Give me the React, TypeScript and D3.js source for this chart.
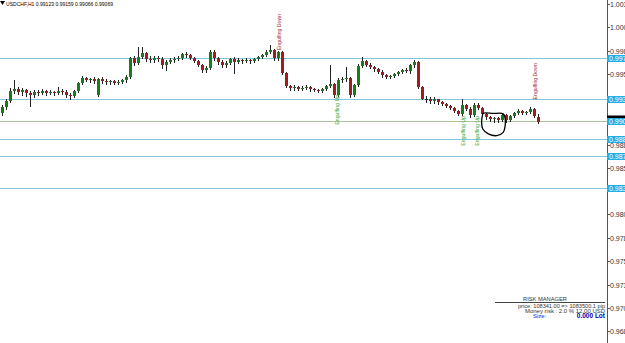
import React from 'react';
import * as d3 from 'd3';

const W = 625;
const H = 343;

const symbol = 'USDCHF,H1';
const lastQuote = ['0.99123', '0.99159', '0.99066', '0.99069'];

const open = [
  0.99174, 0.99239, 0.99303, 0.99399, 0.99421, 0.99389, 0.99410, 0.99378, 0.99357, 0.99389,
  0.99378, 0.99399, 0.99378, 0.99389, 0.99378, 0.99399, 0.99389, 0.99357, 0.99346, 0.99399,
  0.99485, 0.99538, 0.99517, 0.99528, 0.99357, 0.99528, 0.99506, 0.99496, 0.99506, 0.99485,
  0.99496, 0.99517, 0.99549, 0.99752, 0.99699, 0.99763, 0.99806, 0.99742, 0.99731, 0.99752,
  0.99742, 0.99678, 0.99710, 0.99731, 0.99742, 0.99752, 0.99795, 0.99785, 0.99752, 0.99720,
  0.99678, 0.99624, 0.99645, 0.99817, 0.99752, 0.99710, 0.99678, 0.99699, 0.99742, 0.99710,
  0.99731, 0.99720, 0.99731, 0.99720, 0.99742, 0.99763, 0.99785, 0.99817, 0.99838, 0.99752,
  0.99817, 0.99592, 0.99453, 0.99431, 0.99442, 0.99421, 0.99431, 0.99442, 0.99421, 0.99410,
  0.99399, 0.99421, 0.99453, 0.99474, 0.99357, 0.99517, 0.99528, 0.99538, 0.99357, 0.99464,
  0.99667, 0.99720, 0.99678, 0.99656, 0.99635, 0.99603, 0.99571, 0.99549, 0.99560, 0.99581,
  0.99603, 0.99624, 0.99613, 0.99678, 0.99710, 0.99442, 0.99324, 0.99314, 0.99303, 0.99314,
  0.99292, 0.99271, 0.99249, 0.99228, 0.99196, 0.99164, 0.99260, 0.99217, 0.99153, 0.99260,
  0.99228, 0.99164, 0.99131, 0.99110, 0.99121, 0.99099, 0.99153, 0.99099, 0.99142, 0.99174,
  0.99196, 0.99174, 0.99185, 0.99217, 0.99123,
];
const high = [
  0.99260, 0.99324, 0.99431, 0.99517, 0.99442, 0.99431, 0.99421, 0.99399, 0.99410, 0.99410,
  0.99421, 0.99410, 0.99410, 0.99399, 0.99442, 0.99421, 0.99410, 0.99378, 0.99410, 0.99496,
  0.99560, 0.99549, 0.99538, 0.99549, 0.99538, 0.99549, 0.99528, 0.99517, 0.99517, 0.99517,
  0.99528, 0.99571, 0.99763, 0.99774, 0.99870, 0.99870, 0.99817, 0.99774, 0.99774, 0.99774,
  0.99763, 0.99731, 0.99752, 0.99763, 0.99774, 0.99806, 0.99817, 0.99795, 0.99763, 0.99731,
  0.99688, 0.99667, 0.99838, 0.99838, 0.99763, 0.99731, 0.99720, 0.99752, 0.99763, 0.99752,
  0.99742, 0.99752, 0.99742, 0.99752, 0.99774, 0.99795, 0.99838, 0.99892, 0.99849, 0.99827,
  0.99827, 0.99603, 0.99464, 0.99464, 0.99453, 0.99453, 0.99464, 0.99453, 0.99431, 0.99421,
  0.99431, 0.99464, 0.99678, 0.99485, 0.99538, 0.99549, 0.99656, 0.99549, 0.99474, 0.99688,
  0.99763, 0.99731, 0.99699, 0.99667, 0.99645, 0.99624, 0.99581, 0.99571, 0.99592, 0.99613,
  0.99635, 0.99645, 0.99688, 0.99731, 0.99720, 0.99453, 0.99346, 0.99335, 0.99335, 0.99324,
  0.99303, 0.99281, 0.99260, 0.99239, 0.99206, 0.99324, 0.99271, 0.99239, 0.99281, 0.99281,
  0.99239, 0.99174, 0.99142, 0.99131, 0.99131, 0.99164, 0.99164, 0.99153, 0.99185, 0.99217,
  0.99206, 0.99196, 0.99239, 0.99228, 0.99159,
];
const low = [
  0.99153, 0.99217, 0.99292, 0.99378, 0.99367, 0.99357, 0.99346, 0.99249, 0.99335, 0.99357,
  0.99367, 0.99357, 0.99367, 0.99357, 0.99367, 0.99367, 0.99335, 0.99314, 0.99335, 0.99389,
  0.99474, 0.99506, 0.99496, 0.99485, 0.99346, 0.99485, 0.99474, 0.99474, 0.99474, 0.99474,
  0.99485, 0.99496, 0.99538, 0.99678, 0.99688, 0.99752, 0.99720, 0.99710, 0.99710, 0.99720,
  0.99645, 0.99624, 0.99699, 0.99710, 0.99731, 0.99742, 0.99763, 0.99742, 0.99710, 0.99667,
  0.99603, 0.99603, 0.99635, 0.99731, 0.99688, 0.99656, 0.99656, 0.99688, 0.99592, 0.99699,
  0.99699, 0.99710, 0.99699, 0.99710, 0.99731, 0.99752, 0.99774, 0.99806, 0.99731, 0.99731,
  0.99581, 0.99442, 0.99410, 0.99410, 0.99410, 0.99410, 0.99421, 0.99399, 0.99399, 0.99389,
  0.99389, 0.99410, 0.99442, 0.99335, 0.99346, 0.99496, 0.99506, 0.99335, 0.99346, 0.99453,
  0.99656, 0.99667, 0.99645, 0.99613, 0.99592, 0.99549, 0.99538, 0.99538, 0.99549, 0.99571,
  0.99592, 0.99603, 0.99592, 0.99656, 0.99431, 0.99314, 0.99292, 0.99281, 0.99281, 0.99271,
  0.99260, 0.99239, 0.99217, 0.99185, 0.99153, 0.99153, 0.99206, 0.99131, 0.99142, 0.99217,
  0.99153, 0.99110, 0.99089, 0.99078, 0.99078, 0.99089, 0.99078, 0.99089, 0.99131, 0.99164,
  0.99164, 0.99164, 0.99174, 0.99131, 0.99066,
];
const close = [
  0.99239, 0.99303, 0.99399, 0.99421, 0.99389, 0.99410, 0.99378, 0.99357, 0.99389, 0.99378,
  0.99399, 0.99378, 0.99389, 0.99378, 0.99399, 0.99389, 0.99357, 0.99346, 0.99399, 0.99485,
  0.99538, 0.99517, 0.99528, 0.99506, 0.99528, 0.99506, 0.99496, 0.99506, 0.99485, 0.99496,
  0.99517, 0.99549, 0.99752, 0.99699, 0.99763, 0.99806, 0.99742, 0.99731, 0.99752, 0.99742,
  0.99678, 0.99710, 0.99731, 0.99742, 0.99752, 0.99795, 0.99785, 0.99752, 0.99720, 0.99678,
  0.99624, 0.99645, 0.99817, 0.99752, 0.99710, 0.99678, 0.99699, 0.99742, 0.99710, 0.99731,
  0.99720, 0.99731, 0.99720, 0.99742, 0.99763, 0.99785, 0.99817, 0.99838, 0.99752, 0.99817,
  0.99592, 0.99453, 0.99431, 0.99442, 0.99421, 0.99431, 0.99442, 0.99421, 0.99410, 0.99399,
  0.99421, 0.99453, 0.99474, 0.99357, 0.99517, 0.99528, 0.99538, 0.99357, 0.99464, 0.99667,
  0.99720, 0.99678, 0.99656, 0.99635, 0.99603, 0.99571, 0.99549, 0.99560, 0.99581, 0.99603,
  0.99624, 0.99613, 0.99678, 0.99710, 0.99442, 0.99324, 0.99314, 0.99303, 0.99314, 0.99292,
  0.99271, 0.99249, 0.99228, 0.99196, 0.99164, 0.99260, 0.99217, 0.99153, 0.99260, 0.99228,
  0.99164, 0.99131, 0.99110, 0.99121, 0.99099, 0.99153, 0.99099, 0.99142, 0.99174, 0.99196,
  0.99174, 0.99185, 0.99217, 0.99142, 0.99069,
];

const tickLabels = [
  '1.0033', '1.0008', '0.9983', '0.9958', '0.9933', '0.9908', '0.9883', '0.9859',
  '0.9834', '0.9809', '0.9784', '0.9759', '0.9734', '0.9709', '0.9685',
];

const levelLines = [0.9976, 0.9932, 0.9889, 0.9871, 0.9837];
const levelLabels = ['0.9976', '0.9932', '0.9889', '0.9871', '0.9837'];
const bidLevel = 0.9909;
const bidLabel = '0.9909';

const signalIndex = [69.25, 83.75, 115.25, 118.75, 133.25];
const signalPrice = [0.99838, 0.99046, 0.98822, 0.98822, 0.99314];
const signalText = ['Engulfing Down', 'Engulfing Up', 'Engulfing Up', 'Engulfing Up', 'Engulfing Down'];
const signalUp = [false, true, true, true, false];

const loopIndex = [120.3, 122.75, 125.3, 125.75, 125.8, 125.3, 123.7, 121.6, 120.2, 119.9, 120.1];
const loopPrice = [0.99167, 0.99166, 0.99161, 0.99121, 0.99036, 0.98964, 0.98929, 0.98947, 0.99, 0.99071, 0.99143];

const riskTitle = 'RISK MANAGER';
const riskPrice = 'price: 108341.00 => 1083500.1 pip';
const riskMoney = 'Money risk : 2.0 % 12.00 USD';
const sizeLabel = 'Size:';
const sizeValue = '0.000 Lot';

const FONT = '"Liberation Sans", Arial, sans-serif';

export default function App() {
  const n = close.length;
  const x = d3.scaleLinear().domain([0, n - 1]).range([2, 538]);
  const y = d3.scaleLinear().domain([1.0033, 0.9685]).range([4, 331]);
  const axisX = 607;
  const ry = (v: number) => Math.round(y(v)) + 0.5;

  const boxYs = [...levelLines, bidLevel].map(ry);
  const visibleTicks = tickLabels.filter((t) => {
    const ty = ry(parseFloat(t));
    return boxYs.every((by) => Math.abs(by - ty) > 5);
  });

  const loopPts = loopIndex.map((d, i) => [x(d), y(loopPrice[i])] as [number, number]);
  const loopPath = d3.line().curve(d3.curveCatmullRomClosed)(loopPts) || '';

  return (
    <svg width={W} height={H} style={{ position: 'absolute', left: 0, top: 0, background: '#fff' }} fontFamily={FONT}>
      <rect x={0} y={0} width={W} height={H} fill="#fff" />

      {levelLines.map((v, i) => (
        <line key={'l' + i} x1={0} x2={axisX} y1={ry(v)} y2={ry(v)} stroke="#7cc9df" strokeWidth={1} />
      ))}
      <line x1={0} x2={axisX} y1={ry(bidLevel)} y2={ry(bidLevel)} stroke="#a9c79a" strokeWidth={1} />

      {close.map((c, i) => {
        const cx = Math.round(x(i));
        const o = open[i];
        const yo = Math.round(y(o));
        const yc = Math.round(y(c));
        const top = Math.min(yo, yc);
        const h = Math.abs(yo - yc);
        const bull = c > o;
        return (
          <g key={'c' + i}>
            <line x1={cx + 0.5} x2={cx + 0.5} y1={Math.round(y(high[i]))} y2={Math.round(y(low[i])) + 1} stroke="#222" strokeWidth={1} />
            {h >= 1 ? (
              <rect x={cx - 1} y={top} width={3} height={h} fill={bull ? '#1b7a1b' : '#a11d1d'} />
            ) : (
              <rect x={cx - 1} y={top} width={3} height={1} fill="#222" />
            )}
          </g>
        );
      })}

      {signalText.map((t, i) => {
        const sx = x(signalIndex[i]) + 1.9;
        const sy = y(signalPrice[i]);
        return (
          <text key={'s' + i} transform={`translate(${sx},${sy}) rotate(-90)`} fontSize={5.2} fill={signalUp[i] ? '#36a836' : '#a8283a'}>
            {t}
          </text>
        );
      })}

      <path d={loopPath} fill="none" stroke="#000" strokeWidth={1.3} />

      <path d="M0,1 L5,1 L2.5,5 Z" fill="#000" />
      <text x={6} y={6} fontSize={6} fill="#000" textLength={107} lengthAdjust="spacingAndGlyphs">
        {symbol + '  ' + lastQuote.join(' ')}
      </text>

      <line x1={axisX + 0.5} x2={axisX + 0.5} y1={0} y2={H} stroke="#555" strokeWidth={1} />
      {visibleTicks.map((t, i) => {
        const ty = ry(parseFloat(t));
        return (
          <g key={'t' + i}>
            <line x1={axisX} x2={axisX + 3} y1={ty} y2={ty} stroke="#555" />
            <text x={axisX + 3} y={ty + 2.5} fontSize={7} fill="#333">{t}</text>
          </g>
        );
      })}

      <rect x={axisX} y={ry(bidLevel) - 6} width={W - axisX} height={3} fill="#000" />
      {levelLines.map((v, i) => (
        <g key={'b' + i}>
          <rect x={axisX} y={ry(v) - 3.5} width={W - axisX} height={7} fill="#22aee6" />
          <text x={axisX + 2} y={ry(v) + 2.5} fontSize={7} fill="#fff">{levelLabels[i]}</text>
        </g>
      ))}
      <rect x={axisX} y={ry(bidLevel) - 3.5} width={W - axisX} height={7} fill="#22aee6" />
      <text x={axisX + 2} y={ry(bidLevel) + 2.5} fontSize={7} fill="#fff">{bidLabel}</text>

      <text x={545} y={301} fontSize={6} fill="#333" textAnchor="middle" textLength={44} lengthAdjust="spacingAndGlyphs">{riskTitle}</text>
      <line x1={495} x2={605} y1={302.5} y2={302.5} stroke="#444" strokeWidth={1} />
      <text x={518} y={308} fontSize={5.5} fill="#333" textLength={87} lengthAdjust="spacingAndGlyphs">{riskPrice}</text>
      <text x={525} y={312.5} fontSize={5.5} fill="#333" textLength={80} lengthAdjust="spacingAndGlyphs">{riskMoney}</text>
      <text x={533} y={317.5} fontSize={6} fill="#2222dd">{sizeLabel}</text>
      <text x={605} y={317.5} fontSize={6.5} fill="#0000aa" fontWeight="bold" textAnchor="end">{sizeValue}</text>
    </svg>
  );
}
